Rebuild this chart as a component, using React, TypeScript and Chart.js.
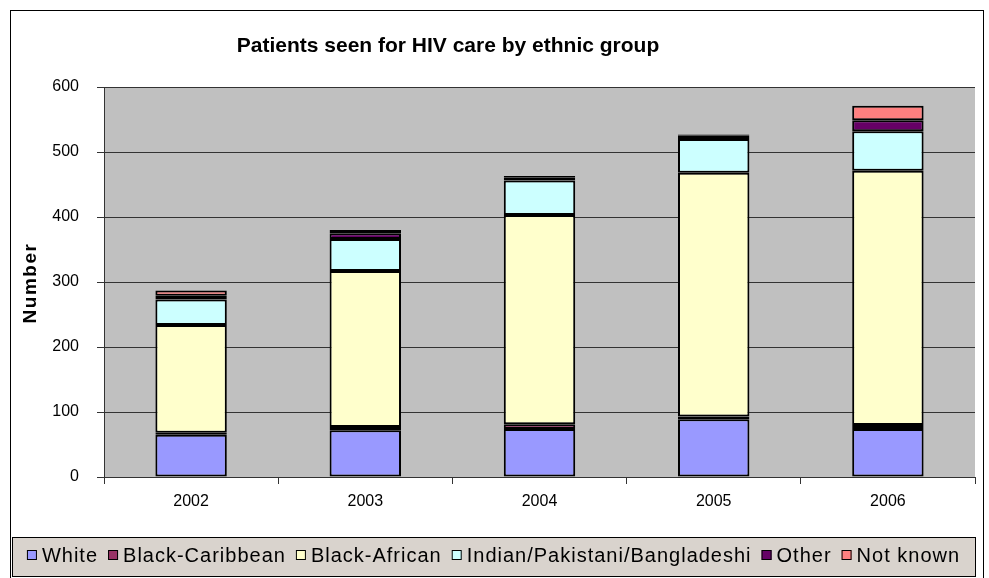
import React, { useEffect, useRef } from 'react';
import { Chart, registerables } from 'chart.js';
Chart.register(...registerables);

const years = ['2002', '2003', '2004', '2005', '2006'];
const white = [65, 72, 74, 89, 74];
const blackCaribbean = [3, 5, 7, 4, 6];
const blackAfrican = [166, 240, 322, 375, 391];
const indianPakBang = [39, 49, 53, 52, 61];
const other = [6, 9, 5, 5, 17];
const notKnown = [8, 5, 2, 2, 22];

const seriesLabels = ['White', 'Black-Caribbean', 'Black-African', 'Indian/Pakistani/Bangladeshi', 'Other', 'Not known'];
const seriesColors = ['#9999FF', '#993366', '#FFFFCC', '#CCFFFF', '#660066', '#FF8080'];
const yTicks = [0, 100, 200, 300, 400, 500, 600];
const titleText = 'Patients seen for HIV care by ethnic group';
const yTitleText = 'Number';
const FONT = 'Arial, "Liberation Sans", sans-serif';

const framePlugin = {
  id: 'frame',
  beforeDraw(chart: any) {
    const { ctx, chartArea } = chart;
    ctx.save();
    ctx.fillStyle = '#ffffff';
    ctx.fillRect(0, 0, chart.width, chart.height);
    ctx.strokeStyle = '#000000';
    ctx.lineWidth = 1;
    ctx.strokeRect(10.5, 10.5, 973, 620);
    ctx.fillStyle = '#C0C0C0';
    ctx.fillRect(chartArea.left, chartArea.top, chartArea.right - chartArea.left, chartArea.bottom - chartArea.top);
    ctx.fillStyle = '#000';
    ctx.font = 'bold 21px ' + FONT;
    ctx.textAlign = 'center';
    ctx.textBaseline = 'middle';
    ctx.fillText(titleText, 448, 46);
    // y axis title
    ctx.save();
    ctx.translate(31, 283);
    ctx.rotate(-Math.PI / 2);
    ctx.font = 'bold 19px ' + FONT;
    (ctx as any).letterSpacing = '1.5px';
    ctx.fillText(yTitleText, 0, 0);
    ctx.restore();
    ctx.restore();
  },
  afterDraw(chart: any) {
    const { ctx } = chart;
    ctx.save();
    const bx = 12, by = 537, bw = 963, bh = 39;
    ctx.fillStyle = '#D9D3CD';
    ctx.fillRect(bx, by, bw, bh);
    ctx.strokeStyle = '#000';
    ctx.lineWidth = 1;
    ctx.strokeRect(bx + 0.5, by + 0.5, bw, bh);
    ctx.font = '20px ' + FONT;
    (ctx as any).letterSpacing = '1px';
    ctx.textBaseline = 'middle';
    ctx.textAlign = 'left';
    const box = 10, gapBox = 5, gapItem = 10;
    const widths = seriesLabels.map((l) => ctx.measureText(l).width);
    const total = widths.reduce((a, w) => a + box + gapBox + w, 0) + gapItem * (seriesLabels.length - 1);
    let x = bx + (bw - total) / 2;
    const cy = 555;
    seriesLabels.forEach((l, i) => {
      ctx.fillStyle = seriesColors[i];
      ctx.fillRect(x, cy - 5, box, box);
      ctx.strokeStyle = '#000';
      ctx.strokeRect(x + 0.5, cy - 4.5, box - 1, box - 1);
      ctx.fillStyle = '#000';
      ctx.fillText(l, x + box + gapBox, cy + 1);
      x += box + gapBox + widths[i] + gapItem;
    });
    ctx.restore();
  },
};

export default function App() {
  const ref = useRef<HTMLCanvasElement | null>(null);
  useEffect(() => {
    document.body.style.margin = '0';
    const data = [white, blackCaribbean, blackAfrican, indianPakBang, other, notKnown];
    const chart = new Chart(ref.current as HTMLCanvasElement, {
      type: 'bar',
      data: {
        labels: years,
        datasets: data.map((d, i) => ({
          label: seriesLabels[i],
          data: d,
          backgroundColor: seriesColors[i],
          borderColor: '#000000',
          borderWidth: 2,
          borderSkipped: false,
          barPercentage: 0.41,
          categoryPercentage: 1,
        })),
      },
      options: {
        responsive: false,
        animation: false,
        layout: { padding: { left: 10, right: 14, top: 87, bottom: 71 } },
        plugins: {
          legend: { display: false },
          title: { display: false },
          tooltip: { enabled: false },
        },
        scales: {
          x: {
            stacked: true,
            afterFit: (s: any) => { s.height = 30; },
            grid: { display: true, drawOnChartArea: false, drawTicks: true, tickLength: 7, color: '#333', offset: true },
            border: { display: true, color: '#333', width: 1 },
            ticks: { color: '#000', font: { family: FONT, size: 16 }, padding: 8 },
          },
          y: {
            stacked: true,
            min: 0,
            max: 600,
            afterFit: (s: any) => { s.width = 94; },
            afterBuildTicks: (s: any) => { s.ticks = yTicks.map((v) => ({ value: v })); },
            grid: { color: '#333', drawTicks: true, tickLength: 7, lineWidth: 1 },
            border: { display: true, color: '#333', width: 1 },
            ticks: { color: '#000', font: { family: FONT, size: 16 }, padding: 18 },
          },
        },
      },
      plugins: [framePlugin],
    });
    return () => chart.destroy();
  }, []);
  return <canvas ref={ref} width={989} height={578} style={{ display: 'block' }} />;
}
